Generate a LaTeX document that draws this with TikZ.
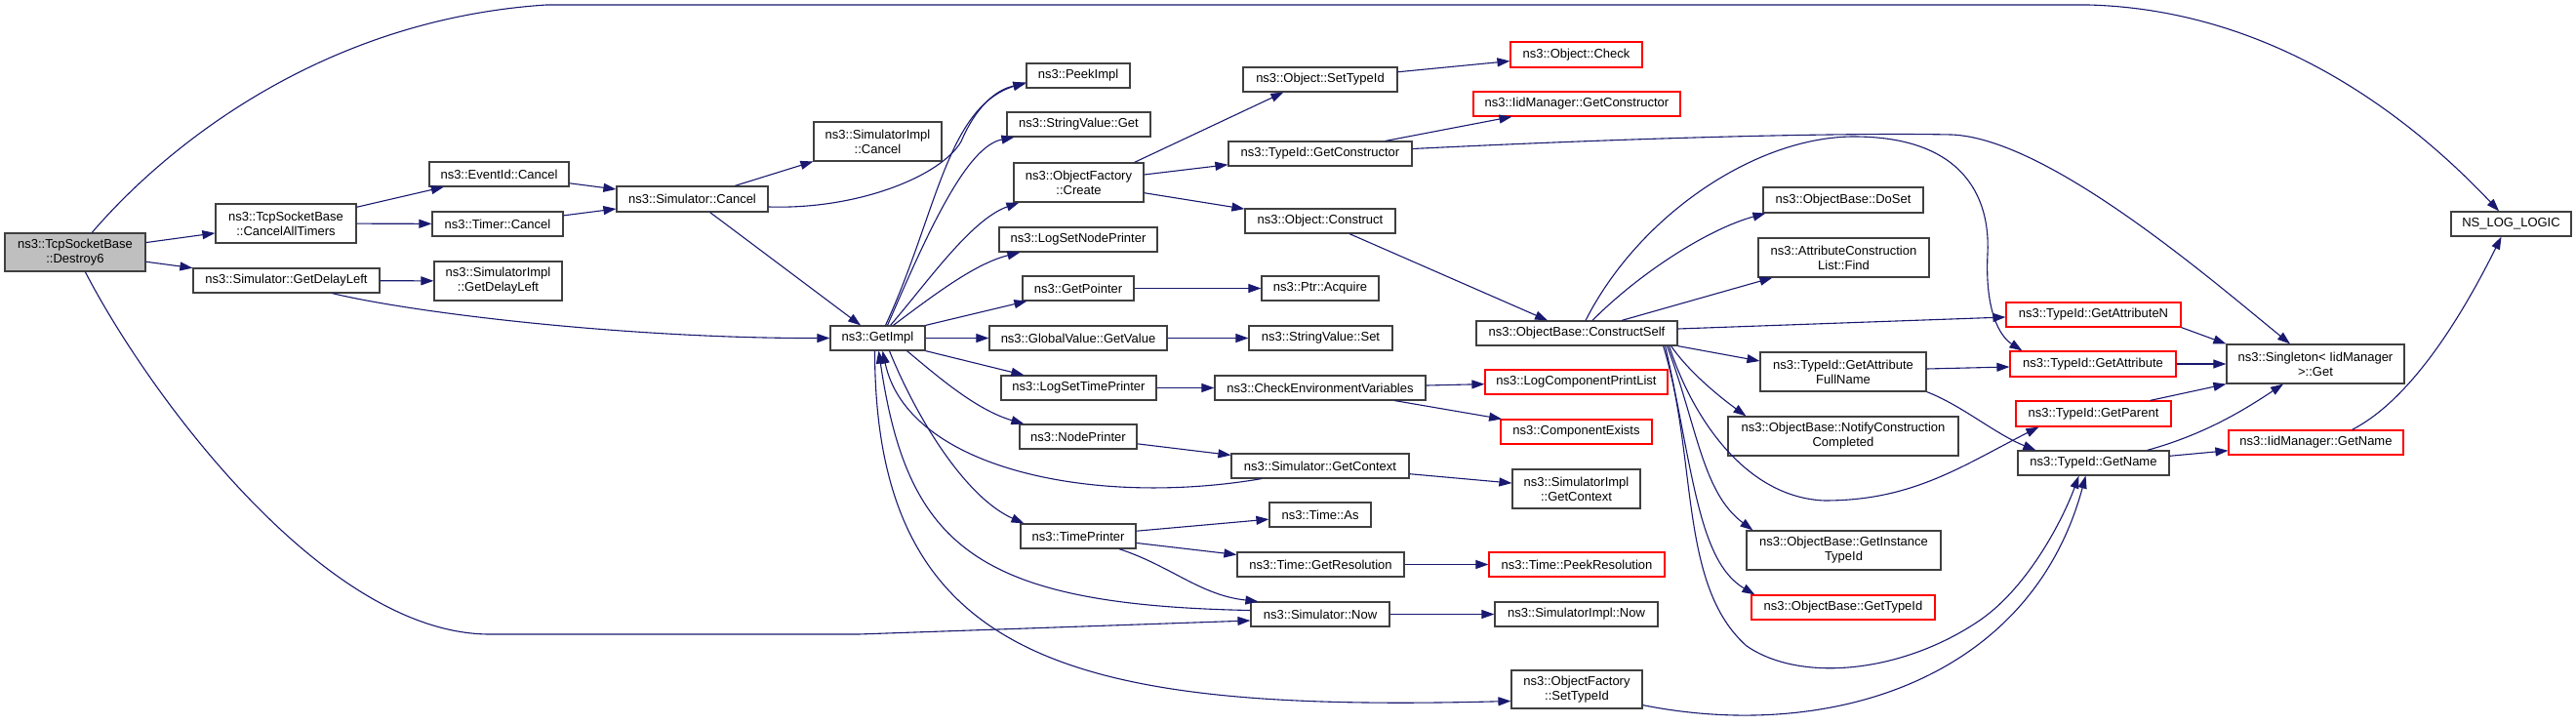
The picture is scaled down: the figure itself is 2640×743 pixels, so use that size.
\documentclass[tikz,border=0pt]{standalone}
\usepackage{fontspec}
\setmainfont{Liberation Sans}
\usetikzlibrary{arrows.meta}
\definecolor{edgeblue}{HTML}{191970}
\definecolor{rootgray}{HTML}{BFBFBF}
\definecolor{boxline}{HTML}{404040}
\begin{document}
\begin{tikzpicture}[x=1pt,y=-1pt,
  box/.style={draw=boxline, line width=1.2pt, fill=white, inner sep=0pt, align=center,
    font=\fontsize{13}{15}\selectfont, text=black},
  redbox/.style={box, draw=red},
  rootbox/.style={box, fill=rootgray},
  edge/.style={draw=edgeblue, line width=1.1pt, -{Triangle[length=13pt,width=9pt]}},
]
\fill[white] (0,0) rectangle (2640,743);
\useasboundingbox (0,0) rectangle (2640,743);

% column 0-1
\node[rootbox, minimum width=144pt, minimum height=39pt] (d6) at (77,258.5) {ns3::TcpSocketBase\\::Destroy6};
\node[box, minimum width=144pt, minimum height=40pt] (cat) at (293,229) {ns3::TcpSocketBase\\::CancelAllTimers};
\node[box, minimum width=191pt, minimum height=25pt] (sgdl) at (293.5,287.5) {ns3::Simulator::GetDelayLeft};
% column 2
\node[box, minimum width=143pt, minimum height=25pt] (evc) at (511.5,178.5) {ns3::EventId::Cancel};
\node[box, minimum width=134pt, minimum height=25pt] (tc) at (510,229.5) {ns3::Timer::Cancel};
\node[box, minimum width=131pt, minimum height=40pt] (sigdl) at (510.5,288) {ns3::SimulatorImpl\\::GetDelayLeft};
% column 3
\node[box, minimum width=155pt, minimum height=26pt] (sc) at (709.5,204) {ns3::Simulator::Cancel};
% column 4
\node[box, minimum width=131pt, minimum height=40pt] (sic) at (899.5,145) {ns3::SimulatorImpl\\::Cancel};
\node[box, minimum width=97pt, minimum height=25pt] (gi) at (899.5,346.5) {ns3::GetImpl};
% column 5
\node[box, minimum width=106pt, minimum height=25pt] (pi) at (1105,77.5) {ns3::PeekImpl};
\node[box, minimum width=147pt, minimum height=25pt] (svg) at (1105.5,127.5) {ns3::StringValue::Get};
\node[box, minimum width=133pt, minimum height=40pt] (ofc) at (1105.5,187) {ns3::ObjectFactory\\::Create};
\node[box, minimum width=162pt, minimum height=25pt] (lsnp) at (1105,245.5) {ns3::LogSetNodePrinter};
\node[box, minimum width=114pt, minimum height=25pt] (gp) at (1105,295.5) {ns3::GetPointer};
\node[box, minimum width=182pt, minimum height=25pt] (gvgv) at (1105,346.5) {ns3::GlobalValue::GetValue};
\node[box, minimum width=159pt, minimum height=25pt] (lstp) at (1105.5,397.5) {ns3::LogSetTimePrinter};
\node[box, minimum width=120pt, minimum height=25pt] (np) at (1105,447.5) {ns3::NodePrinter};
\node[box, minimum width=118pt, minimum height=25pt] (tp) at (1105,549.5) {ns3::TimePrinter};
% column 6
\node[box, minimum width=158pt, minimum height=25pt] (ost) at (1353,81.5) {ns3::Object::SetTypeId};
\node[box, minimum width=188pt, minimum height=25pt] (tgc) at (1353,157.5) {ns3::TypeId::GetConstructor};
\node[box, minimum width=154pt, minimum height=25pt] (oc) at (1353,226.5) {ns3::Object::Construct};
\node[box, minimum width=120pt, minimum height=25pt] (pa) at (1353,295.5) {ns3::Ptr::Acquire};
\node[box, minimum width=147pt, minimum height=25pt] (svs) at (1353.5,346.5) {ns3::StringValue::Set};
\node[box, minimum width=216pt, minimum height=25pt] (cev) at (1353,397.5) {ns3::CheckEnvironmentVariables};
\node[box, minimum width=182pt, minimum height=25pt] (sgc) at (1353,477.5) {ns3::Simulator::GetContext};
\node[box, minimum width=104pt, minimum height=25pt] (ta) at (1353,527.5) {ns3::Time::As};
\node[box, minimum width=171pt, minimum height=25pt] (tgr) at (1353.5,578.5) {ns3::Time::GetResolution};
\node[box, minimum width=142pt, minimum height=25pt] (sn) at (1353,629.5) {ns3::Simulator::Now};
% column 7
\node[redbox, minimum width=135pt, minimum height=26pt] (ock) at (1615.5,56) {ns3::Object::Check};
\node[redbox, minimum width=212pt, minimum height=25pt] (igc) at (1616,106.5) {ns3::IidManager::GetConstructor};
\node[box, minimum width=206pt, minimum height=25pt] (cs) at (1616,341.5) {ns3::ObjectBase::ConstructSelf};
\node[redbox, minimum width=187pt, minimum height=25pt] (lcpl) at (1615.5,391.5) {ns3::LogComponentPrintList};
\node[redbox, minimum width=155pt, minimum height=25pt] (ce) at (1615.5,442.5) {ns3::ComponentExists};
\node[box, minimum width=131pt, minimum height=40pt] (sigc) at (1615.5,501) {ns3::SimulatorImpl\\::GetContext};
\node[redbox, minimum width=180pt, minimum height=25pt] (tpr) at (1616,578.5) {ns3::Time::PeekResolution};
\node[box, minimum width=167pt, minimum height=25pt] (sin) at (1615.5,629.5) {ns3::SimulatorImpl::Now};
\node[box, minimum width=134pt, minimum height=39pt] (ofst) at (1616,706.5) {ns3::ObjectFactory\\::SetTypeId};
% column 8
\node[box, minimum width=164pt, minimum height=26pt] (ds) at (1889,205) {ns3::ObjectBase::DoSet};
\node[box, minimum width=175pt, minimum height=40pt] (acl) at (1889.5,264) {ns3::AttributeConstruction\\List::Find};
\node[box, minimum width=170pt, minimum height=40pt] (gafn) at (1889,381) {ns3::TypeId::GetAttribute\\FullName};
\node[box, minimum width=236pt, minimum height=40pt] (ncc) at (1889,447) {ns3::ObjectBase::NotifyConstruction\\Completed};
\node[box, minimum width=199pt, minimum height=40pt] (git) at (1889.5,564) {ns3::ObjectBase::GetInstance\\TypeId};
\node[redbox, minimum width=188pt, minimum height=25pt] (obgt) at (1889,622.5) {ns3::ObjectBase::GetTypeId};
% column 9
\node[redbox, minimum width=179pt, minimum height=25pt] (gan) at (2145.5,322.5) {ns3::TypeId::GetAttributeN};
\node[redbox, minimum width=170pt, minimum height=26pt] (ga) at (2145,373) {ns3::TypeId::GetAttribute};
\node[redbox, minimum width=159pt, minimum height=26pt] (gpar) at (2145.5,424) {ns3::TypeId::GetParent};
\node[box, minimum width=155pt, minimum height=25pt] (gn) at (2145.5,474.5) {ns3::TypeId::GetName};
% column 10
\node[box, minimum width=182pt, minimum height=40pt] (sg) at (2373,373) {ns3::Singleton< IidManager\\>::Get};
\node[redbox, minimum width=179pt, minimum height=25pt] (ign) at (2373.5,453.5) {ns3::IidManager::GetName};
% column 11
\node[box, minimum width=123pt, minimum height=25pt] (nll) at (2573.5,229.5) {NS\_LOG\_LOGIC};

% ---------- edges ----------
\draw[edge] (d6) .. controls (170,150) and (330,20) .. (560,5) -- (2140,5) .. controls (2330,10) and (2470,120) .. (nll);
\draw[edge] (d6) -- (cat);
\draw[edge] (d6) -- (sgdl);
\draw[edge] (d6) .. controls (150,400) and (330,648) .. (500,650) -- (880,650) -- ([yshift=-6.5pt]sn.west);
\draw[edge] (cat) -- (evc);
\draw[edge] (cat) -- (tc);
\draw[edge] (sgdl) -- (sigdl);
\draw[edge] ([xshift=47pt]sgdl.south) .. controls (430,322) and (650,347) .. (gi.west);
\draw[edge] (evc) -- (sc);
\draw[edge] (tc) -- (sc);
\draw[edge] (sc) -- (sic);
\draw[edge] (sc) -- (gi);
\draw[edge] ([yshift=-8pt]sc.east) .. controls (880,215) and (965,180) .. (985,145) .. controls (1000,110) and (1020,92) .. ([yshift=-8pt]pi.west);
\draw[edge] ([xshift=8pt]gi.north) .. controls (960,220) and (970,110) .. ([yshift=-7pt]pi.west);
\draw[edge] ([xshift=10pt]gi.north) .. controls (950,240) and (990,150) .. ([xshift=8pt]svg.south west);
\draw[edge] ([xshift=13pt]gi.north) .. controls (950,290) and (995,225) .. ([xshift=6pt]ofc.south west);
\draw[edge] ([xshift=16pt]gi.north) .. controls (960,300) and (1000,270) .. ([xshift=22pt]lsnp.south west);
\draw[edge] (gi.north east) -- ([xshift=5pt]gp.south west);
\draw[edge] (gi) -- (gvgv);
\draw[edge] (gi.south east) -- ([xshift=24pt]lstp.north west);
\draw[edge] ([xshift=30pt]gi.south) .. controls (960,385) and (1000,420) .. ([xshift=5pt]np.north west);
\draw[edge] ([xshift=12pt]gi.south) .. controls (940,430) and (990,510) .. ([xshift=4pt]tp.north west);
\draw[edge] ([xshift=-60pt]sgc.south) .. controls (1120,520) and (930,480) .. ([xshift=5pt]gi.south);
\draw[edge] ([yshift=4pt]sn.west) .. controls (1000,620) and (930,560) .. ([xshift=1pt]gi.south);
\draw[edge] ([xshift=-3pt]gi.south) .. controls (897,680) and (1100,730) .. ([yshift=-12pt]ofst.west);
\draw[edge] ([xshift=-10pt]ofc.north east) -- ([xshift=42pt]ost.south west);
\draw[edge] (ofc) -- (tgc);
\draw[edge] (ofc) -- (oc);
\draw[edge] (gp) -- (pa);
\draw[edge] (gvgv) -- (svs);
\draw[edge] (lstp) -- (cev);
\draw[edge] (np) -- (sgc);
\draw[edge] (tp) -- (ta);
\draw[edge] (tp) -- (tgr);
\draw[edge] ([xshift=42pt]tp.south) .. controls (1200,580) and (1230,610) .. ([xshift=8pt]sn.north west);
\draw[edge] (ost) -- (ock);
\draw[edge] ([xshift=67pt]tgc.north) -- ([xshift=40pt]igc.south west);
\draw[edge] ([yshift=5pt]tgc.east) .. controls (1700,140) and (1900,136) .. (2000,138) .. controls (2100,142) and (2270,290) .. ([xshift=-26pt]sg.north);
\draw[edge] (oc) -- (cs);
\draw[edge] (cev) -- (lcpl);
\draw[edge] (cev) -- (ce);
\draw[edge] (sgc) -- (sigc);
\draw[edge] (tgr) -- (tpr);
\draw[edge] (sn) -- (sin);
\draw[edge] ([yshift=4pt]ofst.south east) .. controls (1870,760) and (2080,700) .. ([xshift=-8pt]gn.south);
% ConstructSelf fan
\draw[edge] ([xshift=9pt]cs.north) .. controls (1680,220) and (1800,140) .. (1900,140) .. controls (2010,140) and (2040,200) .. (2037,260) .. controls (2034,320) and (2050,345) .. ([xshift=13pt]ga.north west);
\draw[edge] ([xshift=16pt]cs.north) .. controls (1680,280) and (1750,235) .. ([xshift=3pt]ds.south west);
\draw[edge] ([xshift=46pt]cs.north) -- ([xshift=15pt]acl.south west);
\draw[edge] ([yshift=4.5pt]cs.east) -- ([yshift=-2.5pt]gan.west);
\draw[edge] (cs.south east) -- ([yshift=11pt]gafn.west);
\draw[edge] ([xshift=-7pt]cs.south east) .. controls (1730,380) and (1760,405) .. ([xshift=19pt]ncc.north west);
\draw[edge] ([xshift=-9pt]cs.south east) .. controls (1735,430) and (1790,510) .. (1870,513) .. controls (1960,513) and (2010,478) .. ([xshift=24pt]gpar.south west);
\draw[edge] ([xshift=-11pt]cs.south east) .. controls (1740,440) and (1745,505) .. ([xshift=7pt]git.north west);
\draw[edge] ([xshift=-13pt]cs.south east) .. controls (1735,480) and (1740,575) .. ([xshift=4pt]obgt.north west);
\draw[edge] ([xshift=-15pt]cs.south east) .. controls (1740,470) and (1720,600) .. (1790,662) .. controls (1845,700) and (1950,690) .. (2030,635) .. controls (2080,600) and (2115,530) .. ([xshift=-15pt]gn.south);
% right part
\draw[edge] ([yshift=3pt]gafn.east) -- ([yshift=-3pt]ga.west);
\draw[edge] (gafn.south east) .. controls (2010,415) and (2045,445) .. ([xshift=19pt]gn.north west);
\draw[edge] (gan.south east) -- (sg.north west);
\draw[edge] (ga) -- (sg);
\draw[edge] ([xshift=-22pt]gpar.north east) -- (sg.south west);
\draw[edge] ([xshift=-23pt]gn.north east) .. controls (2260,445) and (2300,420) .. ([xshift=-33pt]sg.south);
\draw[edge] (gn) -- (ign);
\draw[edge] ([xshift=37pt]ign.north) .. controls (2460,415) and (2510,350) .. ([xshift=-10pt]nll.south);
\end{tikzpicture}
\end{document}
